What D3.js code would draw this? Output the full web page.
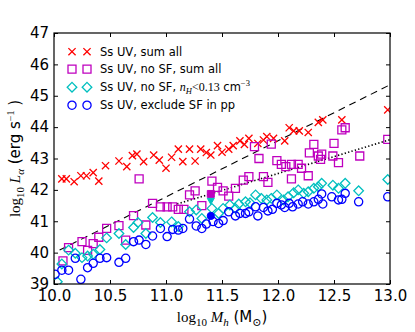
<!DOCTYPE html>
<html>
<head>
<meta charset="utf-8">
<script src="https://cdn.jsdelivr.net/npm/d3@7"></script>
<style>
  body { margin: 0; background: #fff; }
  svg { display: block; }
</style>
</head>
<body>
<div id="chart"></div>
<script>
// values: [log10 Mh, log10 L_alpha]
const sumAll = [
  [10.07,42.35],[10.11,42.35],[10.18,42.26],[10.24,42.45],[10.29,42.45],[10.35,42.55],[10.40,42.28],
  [10.46,42.77],[10.58,42.92],[10.65,42.74],[10.70,43.09],[10.74,43.14],[10.80,42.90],[10.89,43.11],
  [10.94,42.95],[11.00,42.69],[11.05,43.04],[11.11,43.30],[11.15,42.90],[11.21,43.30],[11.26,42.92],
  [11.31,43.30],[11.36,43.19],[11.40,43.11],[11.46,43.41],[11.50,43.20],[11.56,43.30],[11.60,43.41],
  [11.66,43.56],[11.70,43.45],[11.74,43.64],[11.82,43.48],[11.87,43.59],[11.90,43.70],[11.96,43.64],
  [12.06,43.56],[12.10,43.98],[12.14,43.88],[12.19,43.88],[12.27,43.83],[12.36,44.15],[12.40,44.23],
  [12.57,44.23],[12.98,44.55]
]
const noSfSum = [
  [10.08,39.74],[10.13,40.16],[10.25,40.35],[10.30,40.07],[10.35,40.29],[10.40,40.49],[10.47,40.77],
  [10.58,40.86],[10.64,40.40],[10.71,41.18],[10.76,42.35],[10.82,40.88],[10.88,41.57],[10.95,41.46],
  [11.01,41.46],[11.06,41.46],[11.11,41.38],[11.16,41.38],[11.21,41.84],[11.26,41.97],[11.32,41.50],
  [11.41,42.28],[11.46,42.08],[11.51,41.97],[11.56,41.80],[11.62,42.05],[11.69,42.31],[11.74,42.42],
  [11.79,43.38],[11.83,43.00],[11.87,42.42],[11.91,42.24],[11.94,43.46],[11.99,42.93],[12.03,42.81],
  [12.07,42.74],[12.12,42.81],[12.12,42.35],[12.18,42.81],[12.21,42.69],[12.27,42.45],[12.28,43.18],
  [12.32,43.45],[12.36,43.08],[12.39,43.14],[12.38,42.97],[12.49,43.08],[12.50,43.48],[12.54,42.87],
  [12.57,43.91],[12.60,43.98],[12.73,43.08],[12.98,43.61]
]
const noSfLowN = [
  [10.03,39.07],[10.07,39.64],[10.13,40.08],[10.19,39.98],[10.25,39.84],[10.30,39.89],[10.35,39.95],
  [10.41,40.10],[10.47,40.47],[10.58,40.61],[10.64,40.26],[10.71,40.80],[10.75,40.96],[10.82,40.61],
  [10.88,41.12],[10.95,40.96],[11.05,40.98],[11.11,40.83],[11.21,41.30],[11.27,41.36],[11.32,41.09],
  [11.41,41.41],[11.47,41.25],[11.51,41.41],[11.57,41.52],[11.62,41.41],[11.65,41.55],[11.71,41.62],
  [11.75,41.59],[11.80,41.84],[11.85,41.73],[11.90,41.68],[11.94,41.73],[11.99,41.84],[12.05,41.68],
  [12.09,41.78],[12.14,41.91],[12.18,42.00],[12.23,41.89],[12.27,41.94],[12.32,42.05],[12.36,42.10],
  [12.39,42.21],[12.49,42.15],[12.54,42.05],[12.60,42.21],[12.72,41.97],[12.98,42.33]
]
const excludePp = [
  [10.01,39.31],[10.07,39.44],[10.13,39.44],[10.19,39.82],[10.24,39.15],[10.30,39.52],[10.35,39.66],
  [10.41,39.82],[10.47,39.84],[10.58,39.69],[10.64,39.82],[10.71,40.35],[10.76,40.40],[10.82,40.26],
  [10.88,40.53],[10.95,40.77],[11.01,40.51],[11.06,40.74],[11.11,40.72],[11.15,40.77],[11.21,41.07],
  [11.27,40.85],[11.32,40.77],[11.36,40.91],[11.42,40.99],[11.47,40.93],[11.51,41.02],[11.56,41.30],
  [11.62,41.17],[11.66,41.25],[11.71,41.25],[11.74,41.30],[11.80,41.46],[11.82,41.17],[11.87,41.44],
  [11.91,41.33],[11.95,41.38],[11.99,41.57],[12.03,41.52],[12.06,41.44],[12.10,41.57],[12.13,41.46],
  [12.18,41.55],[12.22,41.62],[12.27,41.55],[12.32,41.62],[12.36,41.70],[12.39,41.87],[12.40,41.55],
  [12.48,41.78],[12.54,41.68],[12.57,41.70],[12.60,41.89],[12.72,41.62],[12.98,41.78]
]
// the three filled points at log10 Mh = 11.4
const filledPoints = [
  {x: 11.4, y: 41.87, kind: "square", color: "#bf00bf"},
  {x: 11.4, y: 41.64, kind: "triangle", color: "#00bfbf"},
  {x: 11.4, y: 41.17, kind: "circle", color: "#0000ff"}
]
const dashedLine = [[10.05, 40.08], [13.0, 45.35]]
const dottedLine = [[11.1, 41.55], [13.0, 43.6]]

const xTicks = [10.0, 10.5, 11.0, 11.5, 12.0, 12.5, 13.0]
const yTicks = [39, 40, 41, 42, 43, 44, 45, 46, 47]

const W = 415, H = 332
const margin = {top: 33, right: 25, bottom: 48, left: 54}
const w = W - margin.left - margin.right
const h = H - margin.top - margin.bottom

const sans = "'DejaVu Sans', sans-serif"
const serif = "'Liberation Serif', 'DejaVu Serif', serif"

const x = d3.scaleLinear().domain([10, 13]).range([0, w])
const y = d3.scaleLinear().domain([39, 47]).range([h, 0])

const svg = d3.select("#chart").append("svg")
    .attr("width", W)
    .attr("height", H)

svg.append("defs").append("clipPath").attr("id", "plotclip")
    .append("rect").attr("width", w).attr("height", h)

const g = svg.append("g").attr("transform", `translate(${margin.left},${margin.top})`)

// marker shapes
const shapes = {
    cross: s => `M${-s},${-s}L${s},${s}M${-s},${s}L${s},${-s}`,
    square: s => `M${-s},${-s}H${s}V${s}H${-s}Z`,
    diamond: s => `M0,${-s}L${s},0L0,${s}L${-s},0Z`,
    circle: s => `M${s},0A${s},${s} 0 1,1 ${-s},0A${s},${s} 0 1,1 ${s},0Z`,
    triangle: s => `M${-s},${-s * 0.8}L${s},${-s * 0.8}L0,${s * 0.9}Z`
}

const series = [
    {data: sumAll, kind: "cross", size: 3.6, color: "#ff0000", label: "sum"},
    {data: noSfSum, kind: "square", size: 4, color: "#bf00bf", label: "nosf"},
    {data: noSfLowN, kind: "diamond", size: 4.8, color: "#00bfbf", label: "lown"},
    {data: excludePp, kind: "circle", size: 4.1, color: "#0000ff", label: "pp"}
]

const line = d3.line().x(d => x(d[0])).y(d => y(d[1]))

const plot = g.append("g").attr("clip-path", "url(#plotclip)")

plot.append("path")
    .datum(dashedLine)
    .attr("d", line)
    .attr("fill", "none")
    .attr("stroke", "#000")
    .attr("stroke-width", 1.1)
    .attr("stroke-dasharray", "7,5")

plot.append("path")
    .datum(dottedLine)
    .attr("d", line)
    .attr("fill", "none")
    .attr("stroke", "#000")
    .attr("stroke-width", 1.6)
    .attr("stroke-dasharray", "1.3,2.2")

series.forEach(s => {
    plot.append("g").selectAll("path")
        .data(s.data)
        .join("path")
        .attr("transform", d => `translate(${x(d[0])},${y(d[1])})`)
        .attr("d", shapes[s.kind](s.size))
        .attr("fill", "none")
        .attr("stroke", s.color)
        .attr("stroke-width", 1.3)
})

plot.append("g").selectAll("path")
    .data(filledPoints)
    .join("path")
    .attr("transform", d => `translate(${x(d.x)},${y(d.y)})`)
    .attr("d", d => shapes[d.kind](d.kind == "circle" ? 3.6 : 3.5))
    .attr("fill", d => d.color)
    .attr("stroke", d => d.color)
    .attr("stroke-width", 1)

// axes, ticks pointing inward on all four sides
const tickLen = 4
const xAxis = d3.axisBottom(x).tickValues(xTicks).tickFormat(d3.format(".1f"))
    .tickSizeInner(-tickLen).tickSizeOuter(0).tickPadding(6)
const yAxis = d3.axisLeft(y).tickValues(yTicks).tickFormat(d3.format("d"))
    .tickSizeInner(-tickLen).tickSizeOuter(0).tickPadding(5)

const gx = g.append("g").attr("transform", `translate(0,${h})`).call(xAxis)
const gy = g.append("g").call(yAxis)
g.append("g").call(d3.axisTop(x).tickValues(xTicks).tickFormat("").tickSizeInner(-tickLen).tickSizeOuter(0))
g.append("g").attr("transform", `translate(${w},0)`)
    .call(d3.axisRight(y).tickValues(yTicks).tickFormat("").tickSizeInner(-tickLen).tickSizeOuter(0))

g.selectAll(".domain").remove()
g.selectAll(".tick line").attr("stroke", "#000").attr("stroke-width", 1)
gx.selectAll("text").attr("font-family", sans).attr("font-size", 15).attr("fill", "#000")
gy.selectAll("text").attr("font-family", sans).attr("font-size", 15).attr("fill", "#000")

g.append("rect")
    .attr("width", w)
    .attr("height", h)
    .attr("fill", "none")
    .attr("stroke", "#000")
    .attr("stroke-width", 1.2)

// axis labels
const xl = svg.append("text")
    .attr("x", margin.left + w / 2)
    .attr("y", 322)
    .attr("text-anchor", "middle")
    .attr("font-size", 15)
    .attr("fill", "#000")
xl.append("tspan").attr("font-family", serif).text("log")
xl.append("tspan").attr("font-family", serif).attr("font-size", 11).attr("dy", 4).text("10")
xl.append("tspan").attr("font-family", serif).attr("font-style", "italic").attr("dy", -4).text(" M")
xl.append("tspan").attr("font-family", serif).attr("font-style", "italic").attr("font-size", 11).attr("dy", 4).text("h")
xl.append("tspan").attr("font-family", sans).attr("dy", -4).text(" (M")
xl.append("tspan").attr("font-family", serif).attr("font-size", 11).attr("dy", 4).text("\u2299")
xl.append("tspan").attr("font-family", sans).attr("dy", -4).text(")")

const yl = svg.append("text")
    .attr("transform", `translate(20,${margin.top + h / 2}) rotate(-90)`)
    .attr("text-anchor", "middle")
    .attr("font-size", 15)
    .attr("fill", "#000")
yl.append("tspan").attr("font-family", serif).text("log")
yl.append("tspan").attr("font-family", serif).attr("font-size", 11).attr("dy", 4).text("10")
yl.append("tspan").attr("font-family", serif).attr("font-style", "italic").attr("dy", -4).text(" L")
yl.append("tspan").attr("font-family", serif).attr("font-style", "italic").attr("font-size", 11).attr("dy", 4).text("\u03b1")
yl.append("tspan").attr("font-family", sans).attr("dy", -4).text(" (erg s")
yl.append("tspan").attr("font-family", serif).attr("font-size", 10).attr("dy", -6).text("\u22121")
yl.append("tspan").attr("font-family", sans).attr("dy", 6).text(" )")

// legend (two marker points per entry, no frame)
const legendRows = [51.7, 69.2, 87.2, 105.2]
const legendMarkerX = [72, 87]
const legend = svg.append("g")
series.forEach((s, i) => {
    legendMarkerX.forEach(mx => {
        legend.append("path")
            .attr("transform", `translate(${mx},${legendRows[i]})`)
            .attr("d", shapes[s.kind](s.size))
            .attr("fill", "none")
            .attr("stroke", s.color)
            .attr("stroke-width", 1.3)
    })
    const t = legend.append("text")
        .attr("x", 100)
        .attr("y", legendRows[i] + 4.2)
        .attr("font-family", sans)
        .attr("font-size", 11.5)
        .attr("fill", "#000")
    if (s.label == "sum") t.text("Ss UV, sum all")
    else if (s.label == "nosf") t.text("Ss UV, no SF, sum all")
    else if (s.label == "pp") t.text("Ss UV, exclude SF in pp")
    else {
        t.append("tspan").text("Ss UV, no SF, ")
        t.append("tspan").attr("font-family", serif).attr("font-style", "italic").attr("font-size", 12).text("n")
        t.append("tspan").attr("font-family", serif).attr("font-style", "italic").attr("font-size", 8.5).attr("dy", 3).text("H")
        t.append("tspan").attr("font-family", serif).attr("font-size", 12).attr("dy", -3).text("<0.13")
        t.append("tspan").text(" cm")
        t.append("tspan").attr("font-family", serif).attr("font-size", 8.5).attr("dy", -5).text("\u22123")
    }
})
</script>
</body>
</html>
